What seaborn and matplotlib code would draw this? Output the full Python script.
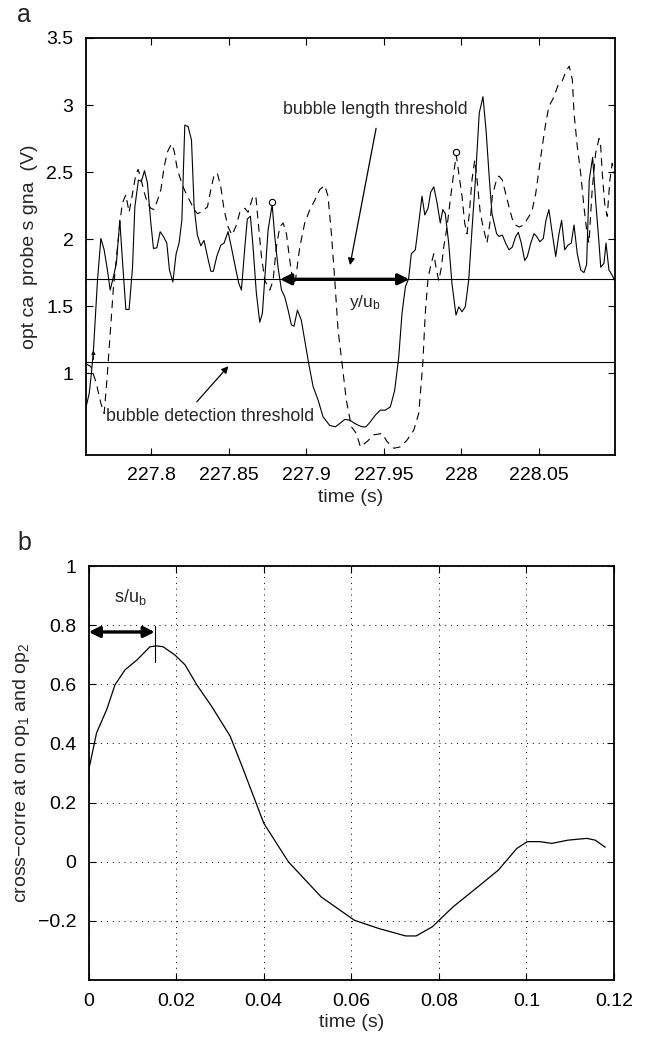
import matplotlib
matplotlib.use("Agg")
import matplotlib.pyplot as plt
import seaborn as sns
import pandas as pd

# probe 1 (solid) signal
t_op1 = [227.7579, 227.7601, 227.7615, 227.7628, 227.7654, 227.7676, 227.7697, 227.7718,
         227.7736, 227.7757, 227.7776, 227.7798, 227.7815, 227.7837, 227.7858, 227.7880,
         227.7895, 227.7918, 227.7937, 227.7957, 227.7976, 227.7998, 227.8015, 227.8037,
         227.8058, 227.8079, 227.8101, 227.8118, 227.8140, 227.8161, 227.8180, 227.8198,
         227.8217, 227.8238, 227.8260, 227.8277, 227.8298, 227.8320, 227.8341, 227.8363,
         227.8385, 227.8401, 227.8423, 227.8449, 227.8470, 227.8496, 227.8517, 227.8543,
         227.8565, 227.8582, 227.8604, 227.8620, 227.8640, 227.8657, 227.8678, 227.8700,
         227.8717, 227.8736, 227.8754, 227.8780, 227.8797, 227.8818, 227.8840, 227.8861,
         227.8883, 227.8904, 227.8921, 227.8943, 227.8968, 227.8994, 227.9016, 227.9044,
         227.9076, 227.9108, 227.9151, 227.9188, 227.9216, 227.9248, 227.9280, 227.9313,
         227.9334, 227.9360, 227.9385, 227.9413, 227.9445, 227.9477, 227.9510, 227.9542,
         227.9570, 227.9596, 227.9617, 227.9639, 227.9660, 227.9677, 227.9703, 227.9725,
         227.9746, 227.9764, 227.9785, 227.9802, 227.9822, 227.9843, 227.9864, 227.9880,
         227.9896, 227.9918, 227.9939, 227.9965, 227.9983, 228.0004, 228.0025, 228.0047,
         228.0068, 228.0090, 228.0115, 228.0139, 228.0159, 228.0180, 228.0197, 228.0227,
         228.0242, 228.0264, 228.0285, 228.0307, 228.0328, 228.0350, 228.0367, 228.0386,
         228.0408, 228.0425, 228.0447, 228.0468, 228.0485, 228.0506, 228.0528, 228.0545,
         228.0564, 228.0586, 228.0608, 228.0629, 228.0646, 228.0666, 228.0687, 228.0708,
         228.0726, 228.0747, 228.0769, 228.0790, 228.0807, 228.0824, 228.0846, 228.0865,
         228.0887, 228.0898, 228.0919, 228.0932, 228.0951, 228.0972, 228.0988]
v_op1 = [0.74, 0.85, 1.00, 1.17, 1.69, 2.005, 1.92, 1.77,
         1.62, 1.72, 1.82, 2.14, 1.84, 1.475, 1.475, 1.79,
         2.24, 2.44, 2.43, 2.51, 2.42, 2.12, 1.93, 1.935,
         2.055, 2.02, 1.97, 1.77, 1.68, 1.89, 1.97, 2.14,
         2.85, 2.84, 2.74, 2.24, 2.03, 1.95, 1.99, 1.87,
         1.76, 1.76, 1.87, 1.955, 1.97, 2.055, 1.94, 1.79,
         1.67, 1.62, 1.94, 2.15, 2.17, 1.94, 1.60, 1.38,
         1.445, 1.77, 2.07, 2.255, 2.02, 1.79, 1.62, 1.57,
         1.47, 1.36, 1.35, 1.47, 1.395, 1.22, 1.07, 0.90,
         0.80, 0.675, 0.61, 0.60, 0.625, 0.655, 0.65, 0.625,
         0.612, 0.60, 0.60, 0.637, 0.687, 0.724, 0.724, 0.749,
         0.873, 1.12, 1.445, 1.645, 1.707, 1.89, 1.92, 2.12,
         2.32, 2.18, 2.23, 2.35, 2.39, 2.27, 2.12, 2.22,
         2.19, 1.97, 1.67, 1.433, 1.495, 1.458, 1.495, 1.694,
         2.067, 2.44, 2.94, 3.062, 2.81, 2.45, 2.19, 2.04,
         2.02, 2.03, 1.97, 1.92, 1.94, 2.02, 2.05, 1.97,
         1.84, 1.87, 1.97, 2.04, 2.02, 1.98, 2.005, 2.14,
         2.22, 2.04, 1.87, 2.04, 2.14, 1.92, 1.955, 1.97,
         2.105, 1.89, 1.77, 1.75, 1.81, 2.44, 2.61, 2.29,
         1.97, 1.79, 1.82, 1.97, 1.77, 1.73, 1.69]

# probe 2 (dashed) signal
t_op2 = [227.7579, 227.7611, 227.7644, 227.7676, 227.7697, 227.7715, 227.7736, 227.7757,
         227.7779, 227.7800, 227.7815, 227.7837, 227.7858, 227.7880, 227.7901, 227.7916,
         227.7934, 227.7955, 227.7976, 227.7998, 227.8019, 227.8041, 227.8063, 227.8084,
         227.8105, 227.8131, 227.8148, 227.8169, 227.8191, 227.8213, 227.8234, 227.8256,
         227.8277, 227.8298, 227.8320, 227.8341, 227.8363, 227.8385, 227.8406, 227.8427,
         227.8449, 227.8470, 227.8496, 227.8522, 227.8548, 227.8572, 227.8604, 227.8625,
         227.8657, 227.8675, 227.8689, 227.8711, 227.8733, 227.8765, 227.8786, 227.8807,
         227.8829, 227.8851, 227.8872, 227.8894, 227.8915, 227.8930, 227.8958, 227.8990,
         227.9023, 227.9055, 227.9087, 227.9119, 227.9140, 227.9162, 227.9184, 227.9205,
         227.9231, 227.9258, 227.9291, 227.9323, 227.9349, 227.9392, 227.9435, 227.9488,
         227.9521, 227.9564, 227.9606, 227.9649, 227.9693, 227.9725, 227.9751, 227.9767,
         227.9785, 227.9806, 227.9822, 227.9836, 227.9854, 227.9871, 227.9886, 227.9907,
         227.9928, 227.9950, 227.9967, 227.9983, 228.0004, 228.0021, 228.0036, 228.0051,
         228.0068, 228.0086, 228.0101, 228.0122, 228.0144, 228.0165, 228.0186, 228.0199,
         228.0221, 228.0242, 228.0264, 228.0285, 228.0307, 228.0328, 228.0350, 228.0371,
         228.0392, 228.0414, 228.0436, 228.0457, 228.0479, 228.0500, 228.0521, 228.0543,
         228.0564, 228.0592, 228.0624, 228.0650, 228.0674, 228.0695, 228.0715, 228.0726,
         228.0747, 228.0769, 228.0790, 228.0807, 228.0822, 228.0843, 228.0865, 228.0887,
         228.0898, 228.0908, 228.0923, 228.0940, 228.0957, 228.0972, 228.0983]
v_op2 = [1.07, 1.05, 0.935, 0.775, 0.70, 0.95, 1.30, 1.64,
         1.89, 2.14, 2.27, 2.33, 2.20, 2.34, 2.48, 2.52,
         2.45, 2.35, 2.27, 2.23, 2.22, 2.29, 2.37, 2.54,
         2.65, 2.71, 2.66, 2.52, 2.44, 2.37, 2.32, 2.27,
         2.22, 2.19, 2.20, 2.22, 2.24, 2.37, 2.48, 2.49,
         2.39, 2.22, 2.09, 2.03, 2.10, 2.20, 2.23, 2.20,
         2.32, 2.32, 2.14, 1.87, 1.69, 1.62, 1.69, 1.94,
         2.09, 2.12, 2.04, 1.84, 1.67, 1.69, 1.94, 2.12,
         2.22, 2.29, 2.37, 2.40, 2.32, 2.04, 1.69, 1.32,
         1.07, 0.80, 0.60, 0.55, 0.45, 0.49, 0.54, 0.55,
         0.49, 0.44, 0.45, 0.50, 0.575, 0.70, 1.07, 1.445,
         1.71, 1.82, 1.89, 1.79, 1.69, 1.79, 1.94, 2.09,
         2.29, 2.49, 2.627, 2.49, 2.32, 2.12, 2.04, 2.19,
         2.44, 2.59, 2.44, 2.19, 2.07, 1.97, 2.14, 2.32,
         2.42, 2.47, 2.44, 2.34, 2.24, 2.15, 2.105, 2.09,
         2.10, 2.13, 2.17, 2.22, 2.34, 2.515, 2.69, 2.86,
         2.99, 3.05, 3.15, 3.18, 3.25, 3.29, 3.19, 2.94,
         2.69, 2.49, 2.24, 2.07, 1.97, 2.37, 2.64, 2.75,
         2.69, 2.49, 2.27, 2.17, 2.44, 2.565, 2.49]

length_threshold = 1.70
detection_threshold = 1.08
peak_marks = [(227.8780, 2.255), (227.9967, 2.627)]
bubble_span = (227.8831, 227.9664)

# cross-correlation of op1 and op2
lag = [0.0, 0.0018, 0.0041, 0.0060, 0.0083, 0.0110, 0.0140, 0.0155, 0.0170, 0.0197,
       0.0220, 0.0247, 0.0281, 0.0323, 0.0350, 0.0400, 0.0456, 0.0531, 0.0607, 0.0663,
       0.0724, 0.0748, 0.0785, 0.0832, 0.0889, 0.0936, 0.0978, 0.1002, 0.1030, 0.1058,
       0.1095, 0.1138, 0.1157, 0.1180]
xcorr = [0.31, 0.436, 0.514, 0.598, 0.649, 0.682, 0.727, 0.730, 0.727, 0.699,
         0.666, 0.598, 0.525, 0.425, 0.324, 0.13, 0.0, -0.119, -0.198, -0.226,
         -0.251, -0.251, -0.22, -0.153, -0.085, -0.028, 0.045, 0.068, 0.068, 0.062,
         0.073, 0.079, 0.073, 0.049]
lag_peak = 0.0151

top_xticks = [227.8, 227.85, 227.9, 227.95, 228.0, 228.05]
top_xticklabels = ["227.8", "227.85", "227.9", "227.95", "228", "228.05"]
top_yticks = [1, 1.5, 2, 2.5, 3, 3.5]
top_yticklabels = ["1", "1.5", "2", "2.5", "3", "3.5"]
bot_xticks = [0, 0.02, 0.04, 0.06, 0.08, 0.1, 0.12]
bot_xticklabels = ["0", "0.02", "0.04", "0.06", "0.08", "0.1", "0.12"]
bot_yticks = [-0.2, 0, 0.2, 0.4, 0.6, 0.8, 1]
bot_yticklabels = ["\u22120.2", "0", "0.2", "0.4", "0.6", "0.8", "1"]

sns.set_style("ticks")
plt.rcParams['font.family'] = ['Liberation Sans', 'DejaVu Sans']
plt.rcParams['mathtext.fontset'] = 'custom'
plt.rcParams['mathtext.rm'] = 'Liberation Sans'
plt.rcParams['mathtext.it'] = 'Liberation Sans'

fig = plt.figure(figsize=(6.46, 10.43), dpi=100)
ax1 = fig.add_axes([0.1331, 0.5638, 0.8189, 0.3998])
ax2 = fig.add_axes([0.1373, 0.0604, 0.8132, 0.3969])

# --- panel a ---
df1 = pd.DataFrame({"t": t_op1, "v": v_op1})
df2 = pd.DataFrame({"t": t_op2, "v": v_op2})
sns.lineplot(data=df2, x="t", y="v", ax=ax1, color="black", lw=0.8,
             linestyle=(0, (7, 5)), estimator=None, sort=False)
sns.lineplot(data=df1, x="t", y="v", ax=ax1, color="black", lw=0.8,
             estimator=None, sort=False)
ax1.axhline(length_threshold, color="black", lw=0.8)
ax1.axhline(detection_threshold, color="black", lw=0.8)
for px, py in peak_marks:
    ax1.plot(px, py + 0.02, "o", ms=4.5, mfc="white", mec="black", mew=0.8)

ax1.annotate("", xy=(bubble_span[0], length_threshold), xytext=(bubble_span[1], length_threshold),
             arrowprops=dict(arrowstyle="<|-|>", color="black", lw=2.4,
                             mutation_scale=16, shrinkA=0, shrinkB=0))
ax1.text(227.9379, 1.53, "y/u$_\\mathrm{b}$", fontsize=12.5, ha="center", va="center")
ax1.text(227.9443, 2.963, "bubble length threshold", fontsize=12.8, ha="center", va="center")
ax1.annotate("", xy=(227.9282, 1.806), xytext=(227.945, 2.826),
             arrowprops=dict(arrowstyle="-|>", color="black", lw=0.9,
                             mutation_scale=10, shrinkA=0, shrinkB=0))
ax1.text(227.8377, 0.674, "bubble detection threshold", fontsize=12.8, ha="center", va="center")
ax1.annotate("", xy=(227.8498, 1.052), xytext=(227.8294, 0.786),
             arrowprops=dict(arrowstyle="-|>", color="black", lw=0.9,
                             mutation_scale=10, shrinkA=0, shrinkB=0))
ax1.annotate("", xy=(227.7628, 1.17), xytext=(227.7628, 1.10),
             arrowprops=dict(arrowstyle="-|>", color="black", lw=0.6,
                             mutation_scale=6, shrinkA=0, shrinkB=0))

ax1.set_xlim(227.758, 228.099)
ax1.set_ylim(0.39, 3.5)
ax1.set_xticks(top_xticks)
ax1.set_xticklabels(top_xticklabels)
ax1.set_yticks(top_yticks)
ax1.set_yticklabels(top_yticklabels)
ax1.set_xlabel("time (s)", fontsize=14, labelpad=3)
ax1.set_ylabel("opt ca  probe s gna  (V)", fontsize=14, labelpad=6)
ax1.text(-0.13, 1.055, "a", transform=ax1.transAxes, fontsize=18, ha="left", va="center")

# --- panel b ---
dfc = pd.DataFrame({"lag": lag, "r": xcorr})
sns.lineplot(data=dfc, x="lag", y="r", ax=ax2, color="black", lw=0.9, estimator=None, sort=False)
ax2.set_xlim(0, 0.12)
ax2.set_ylim(-0.4, 1)
ax2.set_xticks(bot_xticks)
ax2.set_xticklabels(bot_xticklabels)
ax2.set_yticks(bot_yticks)
ax2.set_yticklabels(bot_yticklabels)
ax2.grid(True, color="black", linestyle=(0, (1, 5)), lw=0.7)
ax2.plot([lag_peak, lag_peak], [0.677, 0.797], color="black", lw=0.8)
ax2.annotate("", xy=(0, 0.777), xytext=(lag_peak, 0.777),
             arrowprops=dict(arrowstyle="<|-|>", color="black", lw=2.4,
                             mutation_scale=16, shrinkA=0, shrinkB=0))
ax2.text(0.0095, 0.895, "s/u$_\\mathrm{b}$", fontsize=13, ha="center", va="center")
ax2.set_xlabel("time (s)", fontsize=14, labelpad=3)
ax2.set_ylabel("cross\u2212corre at on op$_\\mathrm{1}$ and op$_\\mathrm{2}$", fontsize=14, labelpad=4)
ax2.text(-0.135, 1.055, "b", transform=ax2.transAxes, fontsize=18, ha="left", va="center")

for ax in (ax1, ax2):
    for s in ax.spines.values():
        s.set_visible(True)
        s.set_linewidth(1.3)
        s.set_color("black")
    ax.tick_params(direction="in", top=True, right=True, length=5, width=0.8,
                   labelsize=14, colors="black", pad=9)

fig.savefig("out.png", dpi=100)
